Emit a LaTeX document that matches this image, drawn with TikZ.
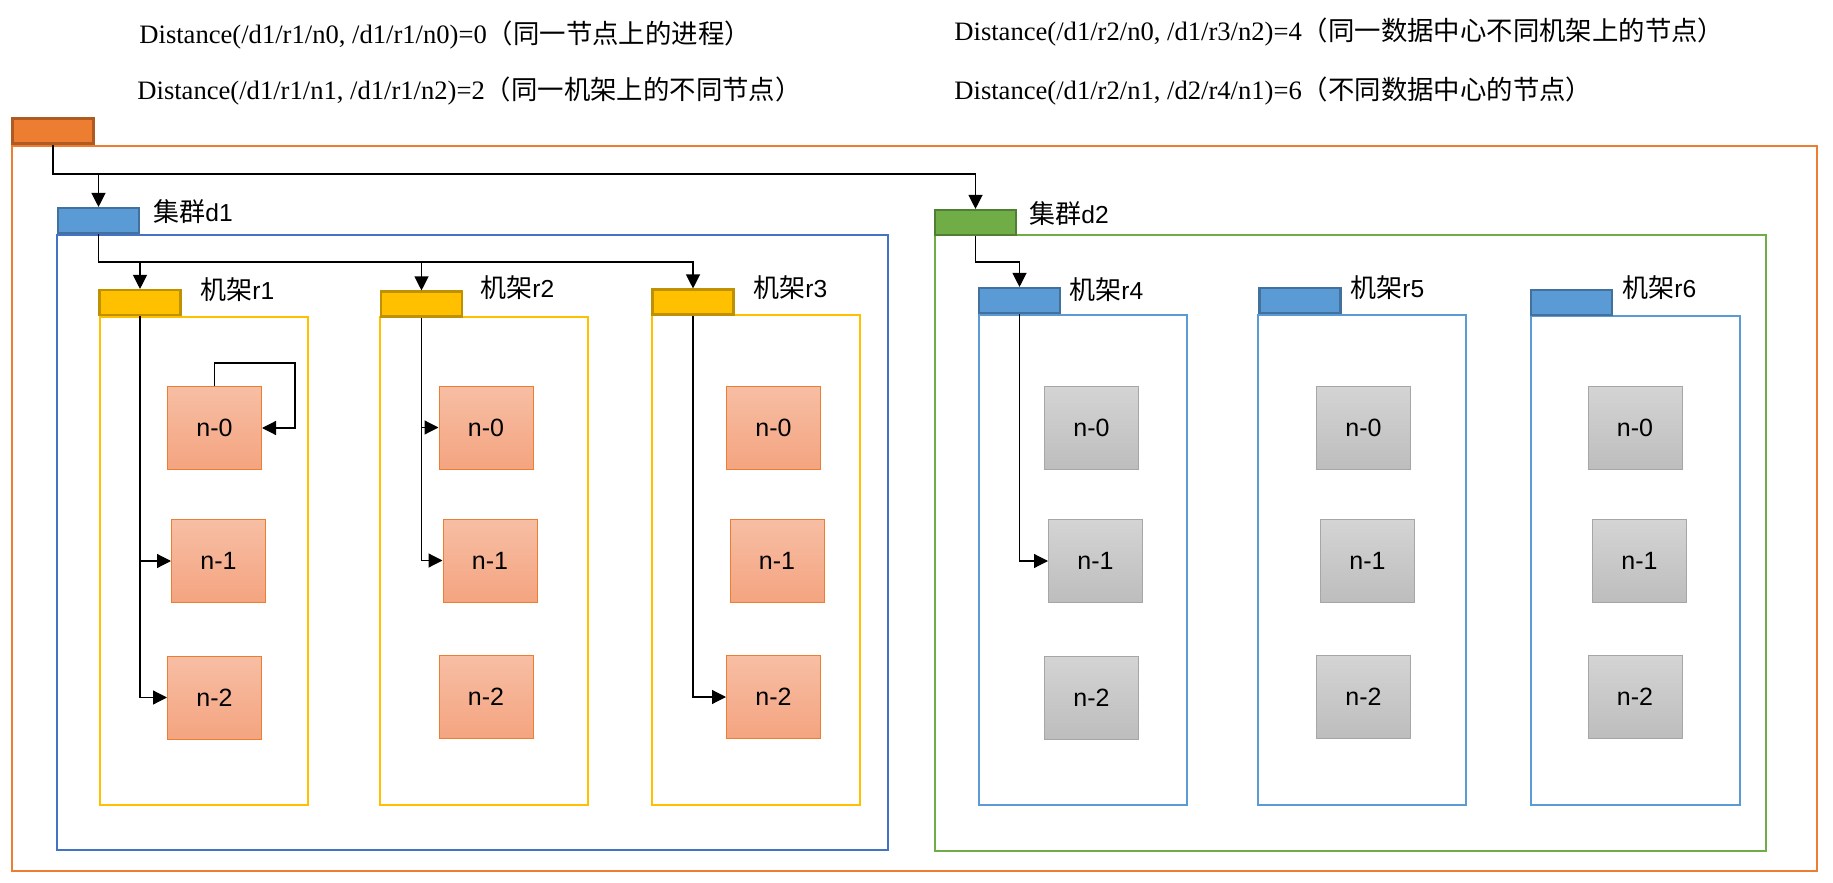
\documentclass[tikz,border=0pt]{standalone}
\usepackage{fontspec}
\setmainfont{Liberation Sans}
\newfontfamily\serifrm{Liberation Serif}
\newfontfamily\cjk{Noto Sans CJK SC}
\newcommand\zh[1]{{\cjk\fontsize{13}{15}\selectfont #1}}
\newcommand\zhs[1]{{\cjk\fontsize{13.2}{15}\selectfont #1}}
\usetikzlibrary{arrows.meta}
\definecolor{orangeC}{HTML}{ED7D31}
\definecolor{orangeD}{HTML}{AE5A21}
\definecolor{blueC}{HTML}{4472C4}
\definecolor{skyC}{HTML}{5B9BD5}
\definecolor{skyD}{HTML}{41719C}
\definecolor{greenC}{HTML}{70AD47}
\definecolor{greenD}{HTML}{507E32}
\definecolor{goldC}{HTML}{FFC000}
\definecolor{goldD}{HTML}{BF9000}
\definecolor{salmonT}{HTML}{F7BEA4}
\definecolor{salmonB}{HTML}{F4A480}
\definecolor{greyT}{HTML}{D4D4D4}
\definecolor{greyB}{HTML}{BDBDBD}
\definecolor{greyD}{HTML}{A6A6A6}
\begin{document}
\begin{tikzpicture}[x=0.5pt, y=-0.5pt,
  tab/.style={draw, line width=1.25pt, minimum width=40.5pt, minimum height=12.3pt, inner sep=0pt},
  frame/.style={line width=1.25pt},
  hostbox/.style={draw, line width=0.5pt, minimum width=47pt, minimum height=41.5pt, inner sep=0pt, font=\fontsize{12.5}{15}\selectfont},
  onode/.style={hostbox, draw=orangeC, top color=salmonT, bottom color=salmonB},
  gnode/.style={hostbox, draw=greyD, top color=greyT, bottom color=greyB},
  lbl/.style={anchor=west, inner sep=0pt, font=\fontsize{12.3}{15}\selectfont},
  dist/.style={anchor=west, inner sep=0pt, font=\serifrm\fontsize{13.3}{16}\selectfont},
  link/.style={line width=0.6pt, -{Triangle[length=7pt, width=7pt]}}]
\useasboundingbox (0,0) rectangle (1833,883);

% distances
\node[dist] (dist0) at (139,35) {Distance(/d1/r1/n0, /d1/r1/n0)=0\zhs{（同一节点上的进程）}};
\node[dist] (dist2) at (137,91) {Distance(/d1/r1/n1, /d1/r1/n2)=2\zhs{（同一机架上的不同节点）}};
\node[dist] (dist4) at (954,32) {Distance(/d1/r2/n0, /d1/r3/n2)=4\zhs{（同一数据中心不同机架上的节点）}};
\node[dist] (dist6) at (954,91) {Distance(/d1/r2/n1, /d2/r4/n1)=6\zhs{（不同数据中心的节点）}};

% frames
\draw[frame, orangeC] (12,146) rectangle (1817,871);
\draw[frame, blueC] (57,235) rectangle (888,850);
\draw[frame, greenC] (935,235) rectangle (1766,851);
\draw[frame, goldC] (100,317) rectangle (308,805);
\draw[frame, goldC] (380,317) rectangle (588,805);
\draw[frame, goldC] (652,315) rectangle (860,805);
\draw[frame, skyC] (979,315) rectangle (1187,805);
\draw[frame, skyC] (1258,315) rectangle (1466,805);
\draw[frame, skyC] (1531,316) rectangle (1740,805);

% tabs
\node[tab, draw=orangeD, fill=orangeC] (tab0) at (53,131){};
\node[tab, draw=skyD, fill=skyC] (d1tab) at (98.5,220.5){};
\node[tab, draw=greenD, fill=greenC] (d2tab) at (975.5,222.5){};
\node[tab, draw=goldD, fill=goldC] (r1tab) at (140,302.5){};
\node[tab, draw=goldD, fill=goldC] (r2tab) at (421.5,304){};
\node[tab, draw=goldD, fill=goldC] (r3tab) at (693,302){};
\node[tab, draw=skyD, fill=skyC] (r4tab) at (1019.5,300.5){};
\node[tab, draw=skyD, fill=skyC] (r5tab) at (1300,300.5){};
\node[tab, draw=skyD, fill=skyC] (r6tab) at (1571.5,302.5){};

\node[lbl] (d1lbl) at (153,212) {\zh{集群}d1};
\node[lbl] (d2lbl) at (1029,214) {\zh{集群}d2};
\node[lbl] (r1lbl) at (200,290) {\zh{机架}r1};
\node[lbl] (r2lbl) at (480,288) {\zh{机架}r2};
\node[lbl] (r3lbl) at (753,288) {\zh{机架}r3};
\node[lbl] (r4lbl) at (1069,290) {\zh{机架}r4};
\node[lbl] (r5lbl) at (1350,288) {\zh{机架}r5};
\node[lbl] (r6lbl) at (1622,288) {\zh{机架}r6};

% hosts
\node[onode] (r1n0) at (214.5,428){n-0};
\node[onode] (r1n1) at (218.5,561){n-1};
\node[onode] (r1n2) at (214.5,697.5){n-2};
\node[onode] (r2n0) at (486,427.5){n-0};
\node[onode] (r2n1) at (490,560.5){n-1};
\node[onode] (r2n2) at (486,697){n-2};
\node[onode] (r3n0) at (773.5,427.5){n-0};
\node[onode] (r3n1) at (777,560.5){n-1};
\node[onode] (r3n2) at (773.5,697){n-2};
\node[gnode] (r4n0) at (1091.5,428){n-0};
\node[gnode] (r4n1) at (1095.5,561){n-1};
\node[gnode] (r4n2) at (1091.5,697.5){n-2};
\node[gnode] (r5n0) at (1363.5,428){n-0};
\node[gnode] (r5n1) at (1367.5,561){n-1};
\node[gnode] (r5n2) at (1363.5,697){n-2};
\node[gnode] (r6n0) at (1635,428){n-0};
\node[gnode] (r6n1) at (1639.5,561){n-1};
\node[gnode] (r6n2) at (1635,697){n-2};

% links
\coordinate (topbus) at (52,174);
\coordinate (d1bus) at (98,262);
\coordinate (d2bus) at (976,262);
\coordinate (r1loop) at (295,363);
\draw[link] (tab0.south) -- (tab0.south |- topbus) -| (d2tab.north);
\draw[link] (d1tab.north |- topbus) -- (d1tab.north);
\draw[link] (d1tab.south) -- (d1tab.south |- d1bus) -| (r3tab.north);
\draw[link] (r1tab.north |- d1bus) -- (r1tab.north);
\draw[link] (r2tab.north |- d1bus) -- (r2tab.north);
\draw[link] (d2tab.south) -- (d2tab.south |- d2bus) -| (r4tab.north);
\draw[link] (r1tab.south) |- (r1n2.west);
\draw[link] (r1tab.south |- r1n1.west) -- (r1n1.west);
\draw[link] (r1n0.north) |- (r1loop) |- (r1n0.east);
\draw[link] (r2tab.south) |- (r2n1.west);
\draw[link] (r2tab.south |- r2n0.west) -- (r2n0.west);
\draw[link] (r3tab.south) |- (r3n2.west);
\draw[link] (r4tab.south) |- (r4n1.west);

\end{tikzpicture}
\end{document}
